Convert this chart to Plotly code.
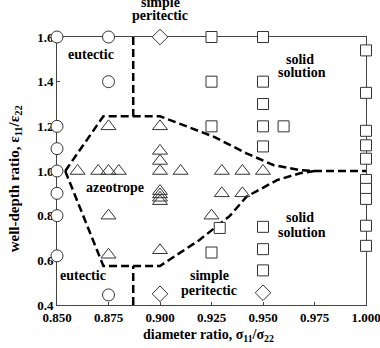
import plotly.graph_objects as go

# ---- data ----
circle_x = [0.85, 0.85, 0.85, 0.85, 0.85, 0.85, 0.85, 0.875, 0.875, 0.875]
circle_y = [1.6, 1.2, 1.1, 1.0, 0.9, 0.8, 0.62, 1.6, 1.4, 0.445]

diamond_x = [0.9, 0.9, 0.95]
diamond_y = [1.6, 0.45, 0.455]

square_x = [0.925, 0.95, 1.0, 1.0, 1.0, 1.0, 1.0, 1.0, 1.0, 1.0, 1.0, 1.0,
            0.925, 0.925, 0.95, 0.95, 0.95, 0.96, 0.95,
            0.929, 0.925, 0.95, 0.95, 0.95]
square_y = [1.6, 1.6, 1.54, 1.35, 1.18, 1.115, 1.055, 0.96, 0.92, 0.875, 0.755, 0.665,
            1.4, 1.2, 1.4, 1.3, 1.2, 1.2, 1.11,
            0.745, 0.635, 0.75, 0.65, 0.555]

tri_x = [0.86, 0.87, 0.875, 0.88, 0.90, 0.91, 0.93, 0.94, 0.95,
         0.875, 0.90,
         0.90, 0.90,
         0.90, 0.90, 0.90, 0.90,
         0.93, 0.94,
         0.875, 0.925,
         0.875, 0.90]
tri_y = [1.0, 1.0, 1.0, 1.0, 1.0, 1.0, 1.0, 1.0, 1.0,
         1.2, 1.2,
         1.09, 1.045,
         0.91, 0.895, 0.88, 0.865,
         0.9, 0.9,
         0.8, 0.8,
         0.625, 0.645]

# azeotrope boundary (upper branch, lower branch)
upper_x = [0.854, 0.8725, 0.900, 0.910, 0.926, 0.942, 0.955, 0.968, 0.975, 1.0]
upper_y = [1.0, 1.245, 1.245, 1.21, 1.154, 1.079, 1.027, 1.004, 1.0, 1.0]
lower_x = [0.854, 0.8725, 0.900, 0.919, 0.934, 0.942, 0.957, 0.968, 0.975]
lower_y = [1.0, 0.575, 0.575, 0.69, 0.80, 0.885, 0.96, 0.99, 1.0]
# vertical eutectic / peritectic boundaries
vtop_x = [0.887, 0.887]
vtop_y = [1.6, 1.245]
vbot_x = [0.887, 0.887]
vbot_y = [0.4, 0.575]

x_ticks = [0.850, 0.875, 0.900, 0.925, 0.950, 0.975, 1.000]
y_ticks = [0.4, 0.6, 0.8, 1.0, 1.2, 1.4, 1.6]

FONT = "Liberation Serif"

fig = go.Figure()

dash_style = dict(color="black", width=2.5, dash="8px,4px")
for xs, ys in [(upper_x, upper_y), (lower_x, lower_y), (vtop_x, vtop_y), (vbot_x, vbot_y)]:
    fig.add_trace(go.Scatter(x=xs, y=ys, mode="lines", line=dash_style,
                             showlegend=False, hoverinfo="skip", cliponaxis=False))

mk_line = dict(color="#333333", width=1)
fig.add_trace(go.Scatter(x=circle_x, y=circle_y, mode="markers", cliponaxis=False,
                         marker=dict(symbol="circle", size=12, color="white", line=mk_line),
                         showlegend=False))
fig.add_trace(go.Scatter(x=diamond_x, y=diamond_y, mode="markers", cliponaxis=False,
                         marker=dict(symbol="diamond", size=12, color="white", line=mk_line),
                         showlegend=False))
fig.add_trace(go.Scatter(x=square_x, y=square_y, mode="markers", cliponaxis=False,
                         marker=dict(symbol="square", size=11, color="white", line=mk_line),
                         showlegend=False))
fig.add_trace(go.Scatter(x=tri_x, y=tri_y, mode="markers", cliponaxis=False,
                         marker=dict(symbol="triangle-up", size=13, color="rgba(255,255,255,0)",
                                     line=mk_line),
                         showlegend=False))

ann_font = dict(family=FONT, size=14, color="black")
def lab(text, x, y, xref="x", yref="y"):
    fig.add_annotation(text="<b>%s</b>" % text, x=x, y=y, xref=xref, yref=yref,
                       showarrow=False, font=ann_font, xanchor="center", yanchor="middle")

lab("eutectic", 0.8666, 1.52)
lab("eutectic", 0.8626, 0.531)
lab("azeotrope", 0.878, 0.924)
lab("solid", 0.968, 1.5)
lab("solution", 0.969, 1.44)
lab("solid", 0.968, 0.79)
lab("solution", 0.969, 0.725)
lab("simple", 0.924, 0.534)
lab("peritectic", 0.924, 0.466)
lab("simple", 0.9, 1.13, yref="paper")
lab("peritectic", 0.9, 1.08, yref="paper")

fig.add_annotation(text="<b>diameter ratio, σ<sub>11</sub>/σ<sub>22</sub></b>",
                   x=0.49, y=-0.115, xref="paper", yref="paper", showarrow=False,
                   font=dict(family=FONT, size=14, color="black"),
                   xanchor="center", yanchor="middle")
fig.add_annotation(text="<b>well-depth ratio, ε<sub>11</sub>/ε<sub>22</sub></b>",
                   x=-0.135, y=0.47, xref="paper", yref="paper", showarrow=False,
                   textangle=-90,
                   font=dict(family=FONT, size=15, color="black"),
                   xanchor="center", yanchor="middle")

axis_common = dict(showline=True, linecolor="#444444", linewidth=1, mirror=True,
                   showgrid=False, zeroline=False, ticks="inside", ticklen=3,
                   tickcolor="#444444", layer="below traces", automargin=False,
                   tickfont=dict(family=FONT, size=13, color="black"))
fig.update_xaxes(range=[0.85, 1.0], tickvals=x_ticks, ticklabeloverflow="allow",
                 ticktext=["<b>%.3f</b>" % v for v in x_ticks], **axis_common)
fig.update_yaxes(range=[0.4, 1.6], tickvals=y_ticks,
                 ticktext=["<b>%.1f</b>" % v for v in y_ticks], **axis_common)

fig.update_layout(width=380, height=348, margin=dict(l=57, r=14, t=37, b=43),
                  paper_bgcolor="white", plot_bgcolor="white")

fig.write_html("out.html")
